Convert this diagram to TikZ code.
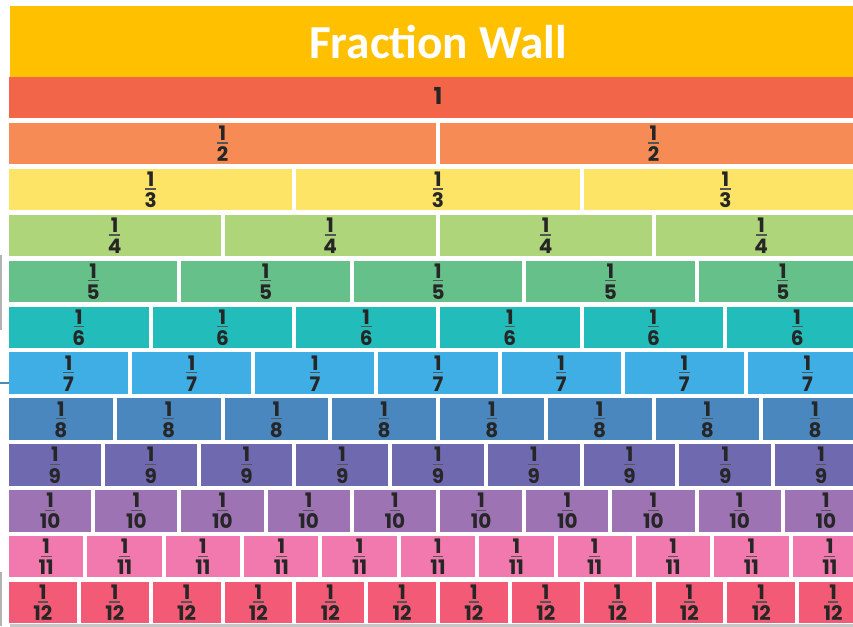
\documentclass[tikz,border=0pt]{standalone}
\usepackage{fontspec}
\setmainfont{Poppins}
\newfontfamily\titlefont{Carlito}
\usepackage{tikz}
\usetikzlibrary{positioning}
\definecolor{cTitle}{HTML}{FFC000}
\definecolor{cWhole}{HTML}{F26549}
\definecolor{cHalf}{HTML}{F68B55}
\definecolor{cThird}{HTML}{FDE466}
\definecolor{cQuarter}{HTML}{AED57A}
\definecolor{cFifth}{HTML}{66C08A}
\definecolor{cSixth}{HTML}{22BCBA}
\definecolor{cSeventh}{HTML}{3EAEE4}
\definecolor{cEighth}{HTML}{4A87BE}
\definecolor{cNinth}{HTML}{6F69B0}
\definecolor{cTenth}{HTML}{9E73B3}
\definecolor{cEleventh}{HTML}{F279AE}
\definecolor{cTwelfth}{HTML}{F25A75}
\definecolor{cInk}{HTML}{262626}
\definecolor{cBar}{HTML}{555555}
\definecolor{cEdge}{HTML}{4A8AB5}
\tikzset{
	band/.style     ={rectangle, inner sep=0pt, draw=none, fill=cTitle, anchor=north west},
	titletext/.style={inner sep=0pt, text=white, font=\titlefont\fontsize{35.5}{38}\selectfont\bfseries},
	brick/.style    ={rectangle, inner sep=0pt, draw=none, minimum height=31.1pt},
	num/.style      ={inner sep=0pt, text=cInk, font=\fontsize{15}{16}\selectfont\bfseries},
	fracbar/.style  ={draw=cBar, line width=1pt},
	edge/.style     ={line width=1.1pt, draw=gray!60},
}

\begin{document}
\begin{tikzpicture}[x=0.75pt, y=-0.75pt]
	\useasboundingbox (0,0) rectangle (853,626);
	\begin{scope}
		\clip (0,0) rectangle (853,626);
		% title
		\node[band, minimum width=632.25pt, minimum height=53.25pt] (band) at (10,6) {};
		\node[titletext] (title) at (438,42) {Fraction Wall};
		% the whole
		\node[brick, fill=cWhole, minimum width=643.5pt] (b1-1) at (438,97.75) {};
		\node[num, font=\fontsize{17.5}{18}\selectfont\bfseries, yshift=1.5pt] (n1-1) at (b1-1) {1};
		% the parts
		\foreach \n/\col in {2/cHalf, 3/cThird, 4/cQuarter, 5/cFifth, 6/cSixth, 7/cSeventh, 8/cEighth, 9/cNinth, 10/cTenth, 11/cEleventh, 12/cTwelfth}{
			\pgfmathsetmacro\w{862/\n}
			\pgfmathsetmacro\bw{(\w-4)*0.75}
			\pgfmathsetmacro\yc{77+(\n-1)*45.9+20.75}
			\foreach \k in {1,...,\n}{
				\node[brick, fill=\col, minimum width=\bw pt] (b\n-\k) at ({7+(\k-0.5)*\w},\yc) {};
				\node[num, yshift=7.7pt] (t\n-\k) at (b\n-\k) {1};
				\node[num, yshift=-8pt] (d\n-\k) at (b\n-\k) {\n};
				\draw[fracbar] ([xshift=-4pt, yshift=0.4pt]b\n-\k.center) -- ([xshift=4pt, yshift=0.4pt]b\n-\k.center);
			}
		}
		% stray edges of the page
		\draw[edge] (1,255) -- (1,330);
		\draw[edge, draw=cEdge] (0,383) -- (9,383);
		\draw[edge] (1,572) -- (1,626);
		\draw[edge, line width=2pt, draw=gray!45] (10,625.5) -- (853,625.5);
	\end{scope}
\end{tikzpicture}
\end{document}
